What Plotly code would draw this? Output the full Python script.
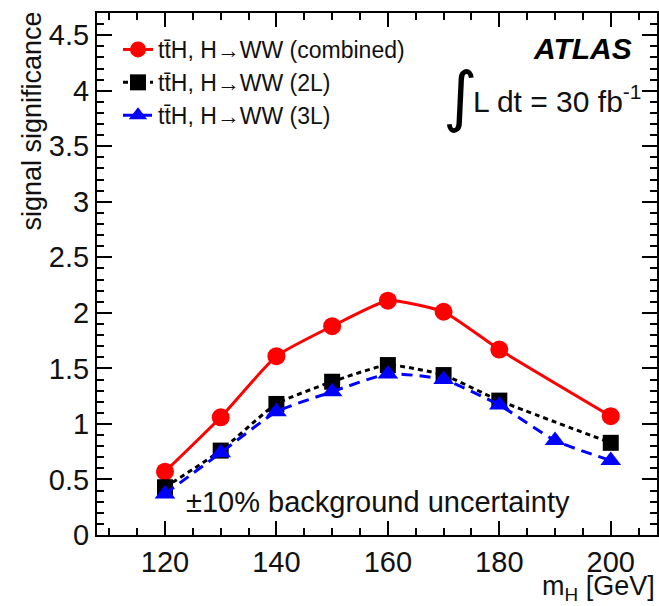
import plotly.graph_objects as go

# ---- data ----
mH_comb = [120, 130, 140, 150, 160, 170, 180, 200]
sig_comb = [0.57, 1.06, 1.61, 1.88, 2.11, 2.01, 1.67, 1.07]

mH_2L = [120, 130, 140, 150, 160, 170, 180, 200]
sig_2L = [0.43, 0.76, 1.18, 1.38, 1.53, 1.44, 1.21, 0.83]

mH_3L = [120, 130, 140, 150, 160, 170, 180, 190, 200]
sig_3L = [0.37, 0.74, 1.11, 1.29, 1.45, 1.40, 1.17, 0.85, 0.67]

names = ["tt\u0304H, H\u2192WW (combined)", "tt\u0304H, H\u2192WW (2L)", "tt\u0304H, H\u2192WW (3L)"]

xtick_vals = [120, 140, 160, 180, 200]
ytick_vals = [0, 0.5, 1, 1.5, 2, 2.5, 3, 3.5, 4, 4.5]
ytick_text = ["0", "0.5", "1", "1.5", "2", "2.5", "3", "3.5", "4", "4.5"]
x_range = [107.8, 208.3]
y_range = [0, 4.7]

W, H = 659, 606
L, R, T, B = 97, 2, 13, 71
PW, PH = W - L - R, H - T - B
FONT = "Liberation Sans, Arial, Helvetica, sans-serif"


def px(x):
    return (x - L) / PW


def py(y):
    return (H - B - y) / PH


fig = go.Figure()
fig.add_trace(go.Scatter(x=mH_comb, y=sig_comb, name=names[0], mode="lines+markers",
                         line=dict(color="#ff0000", width=3, shape="spline", smoothing=0.5),
                         marker=dict(symbol="circle", size=18, color="#ff0000")))
fig.add_trace(go.Scatter(x=mH_2L, y=sig_2L, name=names[1], mode="lines+markers",
                         line=dict(color="#000000", width=3, dash="5px,4px", shape="spline", smoothing=0.5),
                         marker=dict(symbol="square", size=16, color="#000000")))
fig.add_trace(go.Scatter(x=mH_3L, y=sig_3L, name=names[2], mode="lines+markers",
                         line=dict(color="#0000ff", width=3, dash="11px,7px", shape="spline", smoothing=0.5),
                         marker=dict(symbol="triangle-up", size=18, color="#0000ff")))

tickfont = dict(family=FONT, size=29, color="#111111")
common = dict(showgrid=False, zeroline=False, showline=True, linecolor="black", linewidth=2,
              ticks="inside", tickcolor="black", tickwidth=2)
xminor = dict(dtick=5, tick0=0, ticks="inside", ticklen=7, tickcolor="black", tickwidth=1.5)
yminor = dict(dtick=0.1, tick0=0, ticks="inside", ticklen=7, tickcolor="black", tickwidth=1.5)

fig.update_layout(
    xaxis=dict(range=x_range, tickvals=xtick_vals, ticklen=14, minor=xminor, tickfont=tickfont, **common),
    yaxis=dict(range=y_range, tickvals=ytick_vals, ticktext=ytick_text, ticklen=15, minor=yminor,
               tickfont=tickfont, **common),
    xaxis2=dict(range=x_range, tickvals=xtick_vals, ticklen=14, minor=xminor, overlaying="x", side="top",
                showticklabels=False, anchor="y", **common),
    yaxis2=dict(range=y_range, tickvals=ytick_vals, ticklen=15, minor=yminor, overlaying="y", side="right",
                showticklabels=False, anchor="x", **common),
)
# invisible trace to activate the mirrored axes
fig.add_trace(go.Scatter(x=[x_range[0]], y=[y_range[0]], xaxis="x2", yaxis="y2", mode="markers",
                         marker=dict(opacity=0), showlegend=False, hoverinfo="skip"))

ann = []
ann.append(dict(text="<b><i>ATLAS</i></b>", x=px(634), y=py(48), xanchor="right", yanchor="middle",
                font=dict(family=FONT, size=30, color="black")))
ann.append(dict(text="\u222b", x=px(460), y=py(96), xanchor="center", yanchor="middle",
                font=dict(family="DejaVu Sans", size=66, color="black")))
ann.append(dict(text="L dt = 30 fb<sup>-1</sup>", x=px(471), y=py(99), xanchor="left", yanchor="middle",
                font=dict(family=FONT, size=30, color="#111111")))
ann.append(dict(text="\u00b110% background uncertainty", x=px(184), y=py(502), xanchor="left", yanchor="middle",
                font=dict(family=FONT, size=29, color="#111111")))
ann.append(dict(text="signal significance", textangle=-90, x=px(32), y=py(10), xanchor="center", yanchor="top",
                font=dict(family=FONT, size=27, color="#111111")))
ann.append(dict(text="m<sub>H</sub> [GeV]", x=px(657), y=py(588), xanchor="right", yanchor="middle",
                font=dict(family=FONT, size=27, color="#111111")))
for a in ann:
    a.update(xref="paper", yref="paper", showarrow=False)

fig.update_layout(
    width=W, height=H,
    margin=dict(l=L, r=R, t=T, b=B),
    paper_bgcolor="white", plot_bgcolor="white",
    showlegend=True,
    legend=dict(x=px(118), y=py(28), xanchor="left", yanchor="top", bgcolor="rgba(0,0,0,0)",
                font=dict(family=FONT, size=23, color="#111111"), itemwidth=30, tracegroupgap=0),
    annotations=ann,
)

fig.write_html("out.html")
